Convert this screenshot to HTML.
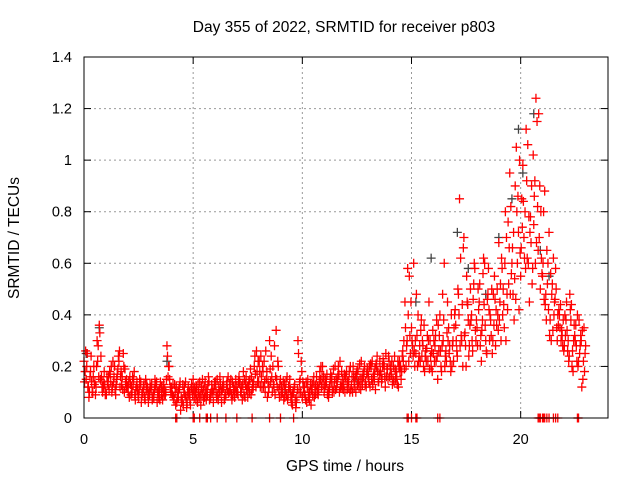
<!DOCTYPE html>
<html><head><meta charset="utf-8"><style>
html,body{margin:0;padding:0;background:#fff;}
svg{display:block;font-family:"Liberation Sans",sans-serif;}
</style></head><body>
<svg id="chart" width="640" height="480" viewBox="0 0 640 480" xmlns="http://www.w3.org/2000/svg">
<rect width="640" height="480" fill="#fff"/>
<text x="344" y="32" font-size="15.5" text-anchor="middle" fill="#000">Day 355 of 2022, SRMTID for receiver p803</text>
<text transform="translate(19,238) rotate(-90)" font-size="15.5" text-anchor="middle" fill="#000">SRMTID / TECUs</text>
<text x="345" y="471" font-size="15.5" text-anchor="middle" fill="#000">GPS time / hours</text>
<g id="grid"></g><g id="ticks"></g><g id="marks"></g>
<rect x="84" y="57" width="524" height="361" fill="none" stroke="#000" stroke-width="1"/>
</svg>
<script>
const xTicks=[0,5,10,15,20];
const yTicks=[0,0.2,0.4,0.6,0.8,1,1.2,1.4];
const yTickLabels=["0","0.2","0.4","0.6","0.8","1","1.2","1.4"];
const step=0.1;
const seriesOffsets=[0,0.025,0.05,0.075];
const seriesA=[.22,.15,.12,.18,.10,.14,.30,.36,.16,.12,
.10,.13,.17,.12,.20,.15,.22,.18,.25,.14,
.12,.16,.10,.18,.12,.08,.14,.10,.07,.12,
.09,.13,.08,.12,.10,.14,.07,.11,.28,.20,
.12,.08,.05,.10,.14,.07,.12,.04,.09,.11,
.15,.10,.06,.14,.09,.12,.07,.16,.08,.10,
.13,.15,.10,.06,.12,.09,.16,.11,.14,.08,
.12,.16,.10,.18,.13,.08,.15,.11,.20,.26,
.14,.24,.18,.10,.08,.30,.16,.12,.34,.20,
.15,.10,.08,.16,.12,.06,.10,.04,.30,.15,
.08,.12,.06,.10,.05,.14,.09,.12,.18,.16,
.10,.14,.08,.17,.12,.20,.14,.10,.18,.13,
.15,.12,.20,.10,.14,.18,.12,.22,.16,.14,
.18,.12,.22,.15,.20,.14,.17,.23,.12,.19,
.16,.22,.14,.18,.12,.20,.26,.45,.30,.55,
.35,.60,.25,.40,.22,.30,.18,.27,.45,.20,
.25,.32,.15,.40,.28,.60,.22,.35,.18,.30,
.42,.24,.85,.30,.70,.20,.38,.50,.26,.58,
.35,.45,.22,.62,.30,.48,.40,.25,.55,.36,
.68,.30,.50,.80,.42,.95,.60,.38,1.05,.72,
.55,.98,.80,.62,.45,.90,.75,1.24,.65,.50,
.55,.88,.65,.72,.30,.62,.58,.40,.35,.32,
.28,.45,.22,.38,.18,.30,.40,.25,.12,.35];
const seriesC=[.14,.20,.08,.24,.16,.09,.22,.33,.12,.18,
.09,.16,.14,.22,.11,.17,.26,.13,.20,.12,
.10,.13,.16,.09,.14,.11,.06,.12,.15,.09,
.13,.07,.11,.14,.08,.12,.10,.09,.24,.15,
.10,.07,.12,.08,.03,.13,.09,.06,.10,.13,
.11,.07,.13,.09,.15,.08,.11,.14,.10,.06,
.14,.09,.16,.11,.07,.13,.10,.15,.09,.12,
.10,.14,.12,.09,.16,.12,.19,.13,.24,.18,
.22,.16,.12,.26,.14,.19,.10,.28,.15,.11,
.09,.14,.11,.07,.15,.09,.12,.06,.25,.10,
.14,.09,.12,.07,.11,.16,.13,.09,.15,.20,
.12,.17,.10,.14,.19,.11,.16,.22,.12,.17,
.18,.14,.11,.20,.16,.13,.21,.15,.18,.12,
.16,.21,.13,.19,.24,.17,.14,.21,.25,.15,
.19,.13,.24,.16,.20,.15,.22,.35,.58,.32,
.30,.26,.48,.22,.34,.28,.24,.32,.19,.26,
.30,.22,.36,.26,.48,.20,.33,.25,.40,.22,
.36,.50,.28,.44,.32,.55,.24,.38,.46,.34,
.28,.52,.34,.44,.26,.58,.38,.30,.46,.50,
.38,.62,.44,.30,.76,.48,.66,.54,.80,.42,
.66,.84,.58,1.06,.72,.52,.86,.68,1.18,.80,
.60,.44,.52,.32,.48,.40,.50,.36,.44,.28,
.40,.34,.24,.44,.30,.36,.20,.28,.34,.18];
const seriesB=[.18,.25,.10,.14,.20,.12,.28,.15,.10,.13,
.16,.11,.20,.14,.09,.19,.12,.16,.10,.15,
.14,.09,.13,.07,.11,.15,.09,.13,.11,.06,
.12,.08,.15,.06,.11,.09,.13,.10,.16,.12,
.09,.13,.06,.11,.08,.05,.14,.10,.07,.12,
.08,.12,.10,.05,.11,.14,.09,.07,.13,.11,
.10,.07,.13,.12,.08,.14,.10,.09,.12,.15,
.09,.13,.07,.15,.11,.14,.09,.12,.17,.14,
.18,.12,.22,.15,.10,.14,.20,.09,.12,.08,
.12,.07,.14,.09,.11,.05,.13,.08,.10,.22,
.12,.07,.15,.10,.13,.08,.16,.11,.20,.13,
.15,.09,.12,.16,.10,.15,.20,.12,.15,.10,
.11,.18,.13,.16,.10,.19,.15,.13,.20,.17,
.14,.20,.16,.11,.18,.22,.15,.20,.16,.24,
.20,.15,.19,.13,.22,.18,.30,.20,.40,.25,
.28,.20,.32,.24,.38,.20,.26,.22,.30,.18,
.22,.38,.26,.20,.30,.24,.45,.28,.20,.35,
.30,.48,.62,.20,.33,.45,.28,.40,.52,.30,
.50,.28,.38,.60,.25,.42,.32,.48,.28,.40,
.45,.58,.35,.70,.52,.82,.48,.90,.60,1.00,
.85,.70,1.12,.60,.78,.58,.92,1.15,.70,.62,
.80,.48,.60,.38,.52,.45,.35,.42,.30,.38,
.32,.26,.48,.20,.36,.28,.22,.32,.15,.25];
const seriesD=[.26,.12,.16,.10,.13,.20,.16,.24,.14,.09,
.14,.18,.10,.16,.13,.24,.16,.11,.19,.12,
.08,.12,.15,.11,.09,.13,.10,.08,.13,.10,
.11,.09,.13,.10,.07,.12,.09,.15,.20,.10,
.13,.10,.08,.12,.06,.10,.08,.12,.05,.09,
.12,.09,.08,.12,.07,.10,.13,.09,.11,.14,
.08,.12,.10,.14,.09,.11,.13,.07,.11,.10,
.14,.10,.13,.08,.12,.10,.16,.14,.12,.22,
.12,.20,.14,.18,.12,.24,.13,.16,.22,.13,
.10,.13,.09,.12,.08,.10,.07,.11,.14,.18,
.10,.14,.08,.13,.09,.12,.10,.14,.12,.16,
.13,.11,.15,.10,.14,.12,.17,.13,.11,.16,
.14,.10,.16,.12,.17,.14,.11,.17,.13,.19,
.20,.15,.17,.21,.14,.18,.20,.16,.19,.22,
.17,.20,.15,.22,.18,.24,.19,.28,.22,.45,
.24,.30,.20,.28,.24,.36,.22,.30,.24,.34,
.28,.24,.32,.18,.38,.26,.30,.22,.28,.40,
.26,.40,.32,.66,.28,.44,.36,.30,.60,.38,
.42,.32,.56,.36,.46,.30,.50,.36,.42,.34,
.52,.40,.60,.48,.66,.56,.72,.46,.86,.64,
.74,.62,.92,.78,.68,1.02,.60,.82,.90,.56,
.46,.38,.42,.56,.34,.46,.30,.40,.34,.26,
.38,.30,.42,.26,.32,.22,.38,.30,.22,.28];
const zeroHours=[4.2,4.25,5.0,5.05,5.3,5.6,5.65,5.8,6.1,6.5,7.0,7.7,8.5,9.0,9.6,14.8,14.85,15.0,15.2,15.25,16.2,16.3,20.8,20.85,20.9,21.0,21.05,21.1,21.2,21.3,21.5,21.6,21.7,22.6,22.65];
const grayHours=[0.1,0.7,3.8,9.2,12.5,15.2,15.9,17.1,17.6,18.4,19.0,19.6,19.9,20.1,20.6,20.9,21.3];
const grayValues=[0.25,0.35,0.22,0.10,0.15,0.45,0.62,0.72,0.58,0.48,0.70,0.85,1.12,0.95,1.18,0.65,0.55];

const X=h=>84+h*(524/24);
const Y=v=>418-v*(361/1.4);
const NS="http://www.w3.org/2000/svg";
const grid=document.getElementById('grid'),ticks=document.getElementById('ticks'),marks=document.getElementById('marks');
function line(p,x1,y1,x2,y2,st,dash){const l=document.createElementNS(NS,'line');l.setAttribute('x1',x1);l.setAttribute('y1',y1);l.setAttribute('x2',x2);l.setAttribute('y2',y2);l.setAttribute('stroke',st);if(dash)l.setAttribute('stroke-dasharray',dash);p.appendChild(l);return l;}
function txt(p,x,y,s,a){const t=document.createElementNS(NS,'text');t.setAttribute('x',x);t.setAttribute('y',y);t.setAttribute('font-size','14.5');t.setAttribute('text-anchor',a);t.textContent=s;p.appendChild(t);return t;}
xTicks.forEach(h=>{
  const g=line(grid,X(h),57,X(h),418,'#999','2,3');
  
  
  line(ticks,X(h),418,X(h),411,'#000');line(ticks,X(h),57,X(h),64,'#000');
  const t=txt(ticks,X(h),444,String(h),'middle');
  
  
});
yTicks.forEach((v,i)=>{
  const g=line(grid,84,Y(v),608,Y(v),'#999','2,3');
  
  
  line(ticks,84,Y(v),91,Y(v),'#000');line(ticks,608,Y(v),601,Y(v),'#000');
  const t=txt(ticks,72,Y(v)+5,yTickLabels[i],'end');
  
  
});
function plus(h,v,c){
  const x=X(h),y=Y(v);
  const p=document.createElementNS(NS,'path');
  p.setAttribute('d',`M${x-4.5},${y}H${x+4.5}M${x},${y-4.5}V${y+4.5}`);
  p.setAttribute('stroke',c);p.setAttribute('stroke-width','1.3');p.setAttribute('fill','none');
  
  
  marks.appendChild(p);
}
grayHours.forEach((h,i)=>plus(h,grayValues[i],'#444'));
[seriesA,seriesC,seriesB,seriesD].forEach((s,k)=>s.forEach((v,i)=>plus(seriesOffsets[k]+i*step,v,'#f00')));
zeroHours.forEach(h=>plus(h,0,'#f00'));
</script>
</body></html>
